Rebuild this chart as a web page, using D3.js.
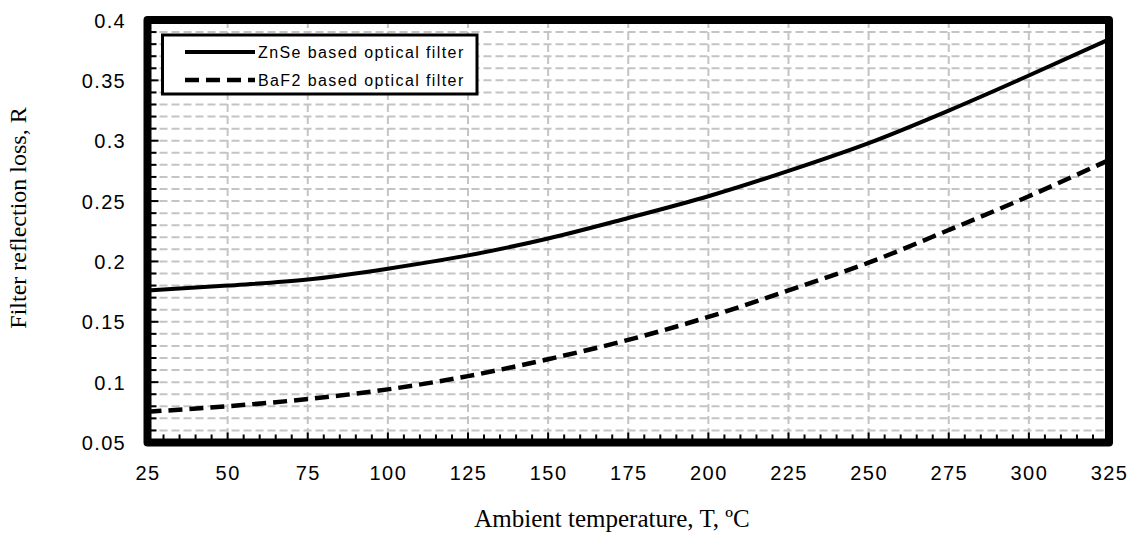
<!DOCTYPE html>
<html>
<head>
<meta charset="utf-8">
<script src="https://cdn.jsdelivr.net/npm/d3@7"></script>
<style>
  html, body { margin: 0; padding: 0; background: #fff; }
  svg { display: block; }
</style>
</head>
<body>
<svg id="chart" width="1136" height="536"></svg>
<script>
// ---- data ----
const temperatures = [25, 50, 75, 100, 125, 150, 175, 200, 225, 250, 275, 300, 325];
const znseValues   = [0.176, 0.180, 0.185, 0.194, 0.205, 0.219, 0.236, 0.254, 0.275, 0.298, 0.325, 0.354, 0.384];
const baf2Values   = [0.0755, 0.080, 0.086, 0.094, 0.105, 0.119, 0.135, 0.154, 0.176, 0.199, 0.226, 0.254, 0.284];
const seriesNames  = ["ZnSe based optical filter", "BaF2 based optical filter"];
const xTickValues  = [25, 50, 75, 100, 125, 150, 175, 200, 225, 250, 275, 300, 325];
const yTickValues  = [0.05, 0.1, 0.15, 0.2, 0.25, 0.3, 0.35, 0.4];
const xTitle = "Ambient temperature, T, ºC";
const yTitle = "Filter reflection loss, R";

// ---- layout ----
const svg = d3.select("#chart");
const x = d3.scaleLinear().domain([25, 325]).range([147.5, 1109]);
const y = d3.scaleLinear().domain([0.05, 0.4]).range([442.5, 20]);

const gridColor = "#c4c4c4";

// minor horizontal grid (every 0.01)
const yMinor = d3.range(0.06, 0.4, 0.01).map(v => +v.toFixed(2));
svg.append("g").selectAll("line").data(yMinor).join("line")
  .attr("x1", x(25)).attr("x2", x(325))
  .attr("y1", d => y(d)).attr("y2", d => y(d))
  .attr("stroke", gridColor).attr("stroke-width", 2)
  .attr("stroke-dasharray", "8,4");

// vertical grid at major ticks
svg.append("g").selectAll("line").data(xTickValues.slice(1, -1)).join("line")
  .attr("x1", d => x(d)).attr("x2", d => x(d))
  .attr("y1", y(0.4)).attr("y2", y(0.05))
  .attr("stroke", gridColor).attr("stroke-width", 2)
  .attr("stroke-dasharray", "8,4");

// minor ticks
const xMinorTicks = d3.range(30, 325, 5);
svg.append("g").selectAll("line").data(xMinorTicks).join("line")
  .attr("x1", d => x(d)).attr("x2", d => x(d))
  .attr("y1", y(0.05)).attr("y2", d => y(0.05) - (d % 25 === 0 ? 10 : 8))
  .attr("stroke", "#000").attr("stroke-width", 2);
svg.append("g").selectAll("line").data(yMinor).join("line")
  .attr("y1", d => y(d)).attr("y2", d => y(d))
  .attr("x1", x(25)).attr("x2", d => x(25) + (Math.abs((d * 100) % 5) < 1e-6 ? 11 : 9))
  .attr("stroke", "#000").attr("stroke-width", 2);

// series lines
const line = d3.line().x((d, i) => x(temperatures[i])).y(d => y(d)).curve(d3.curveMonotoneX);
svg.append("path").datum(znseValues).attr("d", line)
  .attr("fill", "none").attr("stroke", "#000").attr("stroke-width", 4);
svg.append("path").datum(baf2Values).attr("d", line)
  .attr("fill", "none").attr("stroke", "#000").attr("stroke-width", 4.5)
  .attr("stroke-dasharray", "14,7");

// plot border
svg.append("rect")
  .attr("x", x(25)).attr("y", y(0.4))
  .attr("width", x(325) - x(25)).attr("height", y(0.05) - y(0.4))
  .attr("fill", "none").attr("stroke", "#000").attr("stroke-width", 8)
  .attr("stroke-linejoin", "round");

// axes labels
const xAxis = d3.axisBottom(x).tickValues(xTickValues).tickSize(0).tickPadding(0);
const gx = svg.append("g").attr("transform", `translate(0, 480)`).call(xAxis);
gx.select(".domain").remove();
gx.selectAll("text").attr("dy", 0).attr("y", 0)
  .style("font-family", "Arial, 'Liberation Sans', sans-serif")
  .style("font-size", "20px").style("letter-spacing", "1.4px").attr("fill", "#000");

const yAxis = d3.axisLeft(y).tickValues(yTickValues).tickSize(0).tickPadding(0)
  .tickFormat(d => String(+d.toFixed(2)));
const gy = svg.append("g").attr("transform", `translate(126, 0)`).call(yAxis);
gy.select(".domain").remove();
gy.selectAll("text").attr("dy", "0.36em").attr("x", 0)
  .style("font-family", "Arial, 'Liberation Sans', sans-serif")
  .style("font-size", "20px").style("letter-spacing", "1.3px").attr("fill", "#000");

// titles
svg.append("text").attr("x", 612).attr("y", 527)
  .attr("text-anchor", "middle")
  .style("font-family", "'Times New Roman', 'Liberation Serif', serif")
  .style("font-size", "25px").text(xTitle);
svg.append("text")
  .attr("transform", `translate(26, 218) rotate(-90)`)
  .attr("text-anchor", "middle")
  .style("font-family", "'Times New Roman', 'Liberation Serif', serif")
  .style("font-size", "24px").text(yTitle);

// legend
const lg = svg.append("g");
lg.append("rect").attr("x", 162.5).attr("y", 35).attr("width", 314.5).attr("height", 59)
  .attr("fill", "#fff").attr("stroke", "#000").attr("stroke-width", 3);
const legendRows = [{name: seriesNames[0], dash: null, yy: 52}, {name: seriesNames[1], dash: "14,7", yy: 80}];
legendRows.forEach(r => {
  lg.append("line").attr("x1", 185).attr("x2", 255).attr("y1", r.yy).attr("y2", r.yy)
    .attr("stroke", "#000").attr("stroke-width", r.dash ? 4.5 : 4)
    .attr("stroke-dasharray", r.dash);
  lg.append("text").attr("x", 258).attr("y", r.yy).attr("dy", "0.35em")
    .style("font-family", "Arial, 'Liberation Sans', sans-serif")
    .style("font-size", "16px").style("letter-spacing", "1.4px").text(r.name);
});
</script>
</body>
</html>
